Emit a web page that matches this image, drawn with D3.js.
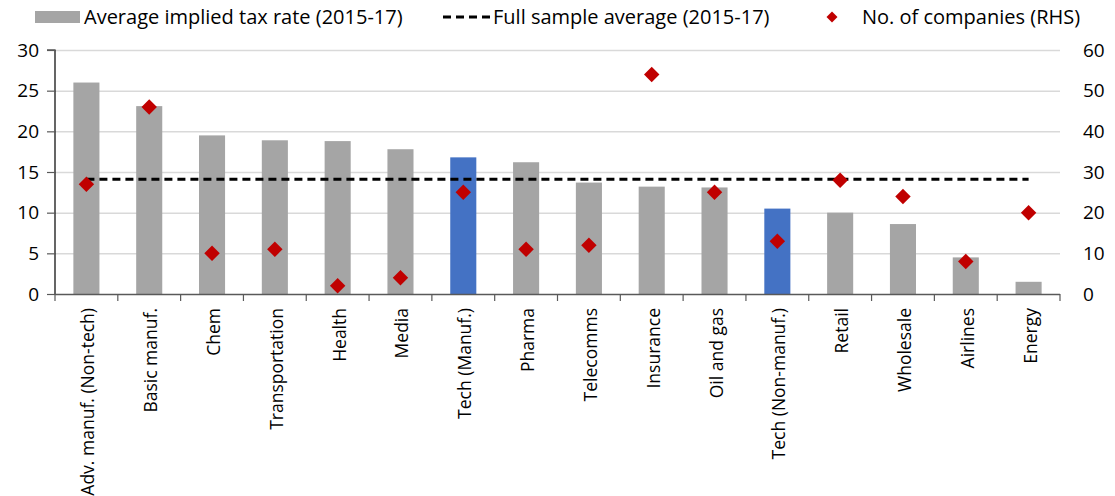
<!DOCTYPE html>
<html><head><meta charset="utf-8">
<script src="https://cdn.jsdelivr.net/npm/d3@7"></script>
<style>body{margin:0;background:#fff}svg{display:block}text{font-family:"Open Sans",sans-serif;fill:#000}</style>
</head><body><svg id="c" width="1115" height="496"></svg>
<script>
const categories = ["Adv. manuf. (Non-tech)","Basic manuf.","Chem","Transportation","Health","Media","Tech (Manuf.)","Pharma","Telecomms","Insurance","Oil and gas","Tech (Non-manuf.)","Retail","Wholesale","Airlines","Energy"];
const taxRate = [26.0,23.1,19.5,18.9,18.8,17.8,16.8,16.2,13.7,13.2,13.1,10.5,10.0,8.6,4.5,1.5];
const companies = [27,46,10,11,2,4,25,11,12,54,25,13,28,24,8,20];
const highlighted = ["Tech (Manuf.)","Tech (Non-manuf.)"];
const sampleAvg = 14.1;
const leftTicks = [0,5,10,15,20,25,30];
const rightTicks = [0,10,20,30,40,50,60];
const legendLabels = ["Average implied tax rate (2015-17)","Full sample average (2015-17)","No. of companies (RHS)"];

const svg = d3.select("#c");
const L = 55, R = 1060, T = 50, B = 294;
const x = d3.scaleBand().domain(categories).range([L, R]).paddingInner(0.585).paddingOuter(0.2925);
const y = d3.scaleLinear().domain([0,30]).range([B, T]);
const y2 = d3.scaleLinear().domain([0,60]).range([B, T]);

// gridlines
svg.append("g").selectAll("line").data(leftTicks.filter(d=>d>0)).join("line")
  .attr("x1", L).attr("x2", R).attr("y1", d=>y(d)+0.5).attr("y2", d=>y(d)+0.5)
  .attr("stroke", "#d9d9d9").attr("stroke-width", 1.5);

// bars
svg.append("g").selectAll("rect").data(categories).join("rect")
  .attr("x", d=>x(d)).attr("width", x.bandwidth())
  .attr("y", (d,i)=>y(taxRate[i])).attr("height", (d,i)=>B - y(taxRate[i]))
  .attr("fill", d=>highlighted.includes(d) ? "#4472c4" : "#a5a5a5");

// average line
const cx = d => x(d) + x.bandwidth()/2;
svg.append("line")
  .attr("x1", cx(categories[0])).attr("x2", cx(categories[categories.length-1]))
  .attr("y1", y(sampleAvg)).attr("y2", y(sampleAvg))
  .attr("stroke", "#000").attr("stroke-width", 3).attr("stroke-dasharray", "8,5");

// diamonds
const diamond = d3.symbol().type(d3.symbolSquare).size(120);
svg.append("g").selectAll("path").data(categories).join("path")
  .attr("d", diamond)
  .attr("transform", (d,i)=>`translate(${cx(d)},${y2(companies[i])}) rotate(45)`)
  .attr("fill", "#c00000");

// left axis
const ax = d3.axisLeft(y).tickValues(leftTicks).tickSize(8).tickPadding(8);
const gl = svg.append("g").attr("transform", `translate(${L},0)`).call(ax);
gl.select(".domain").attr("stroke", "#000").attr("stroke-width", 1.2).attr("d", `M-8,${T}H0V${B}`);
gl.selectAll(".tick line").attr("stroke", "#595959").attr("stroke-width", 1.2);
gl.selectAll("text").style("font-size", "19px").style("font-family", "Open Sans");

// right axis
const ar = d3.axisRight(y2).tickValues(rightTicks).tickSize(0).tickPadding(23);
const gr = svg.append("g").attr("transform", `translate(${R},0)`).call(ar);
gr.select(".domain").remove();
gr.selectAll("text").style("font-size", "19px").style("font-family", "Open Sans");

// x axis
const bounds = d3.range(categories.length + 1).map(i => L + i*(R-L)/categories.length);
svg.append("line").attr("x1", L).attr("x2", R).attr("y1", B+0.5).attr("y2", B+0.5).attr("stroke", "#595959").attr("stroke-width", 1.5);
svg.append("g").selectAll("line").data(bounds).join("line")
  .attr("x1", d=>d).attr("x2", d=>d).attr("y1", B).attr("y2", B+7)
  .attr("stroke", "#595959").attr("stroke-width", 1.2);
svg.append("g").selectAll("text").data(categories).join("text")
  .attr("transform", d=>`translate(${cx(d)+8},${308}) rotate(-90)`)
  .attr("text-anchor", "end")
  .style("font-size", "17.5px")
  .text(d=>d);

// legend
const lg = svg.append("g");
lg.append("rect").attr("x", 35).attr("y", 11).attr("width", 45).attr("height", 12).attr("fill", "#a5a5a5");
lg.append("text").attr("x", 84).attr("y", 24).style("font-size", "20px").text(legendLabels[0]);
lg.append("line").attr("x1", 443).attr("x2", 490).attr("y1", 17).attr("y2", 17)
  .attr("stroke", "#000").attr("stroke-width", 3).attr("stroke-dasharray", "8,5");
lg.append("text").attr("x", 493).attr("y", 24).style("font-size", "20px").text(legendLabels[1]);
lg.append("path").attr("d", d3.symbol().type(d3.symbolSquare).size(60))
  .attr("transform", "translate(832,17) rotate(45)").attr("fill", "#c00000");
lg.append("text").attr("x", 862).attr("y", 24).style("font-size", "20px").text(legendLabels[2]);
</script></body></html>
